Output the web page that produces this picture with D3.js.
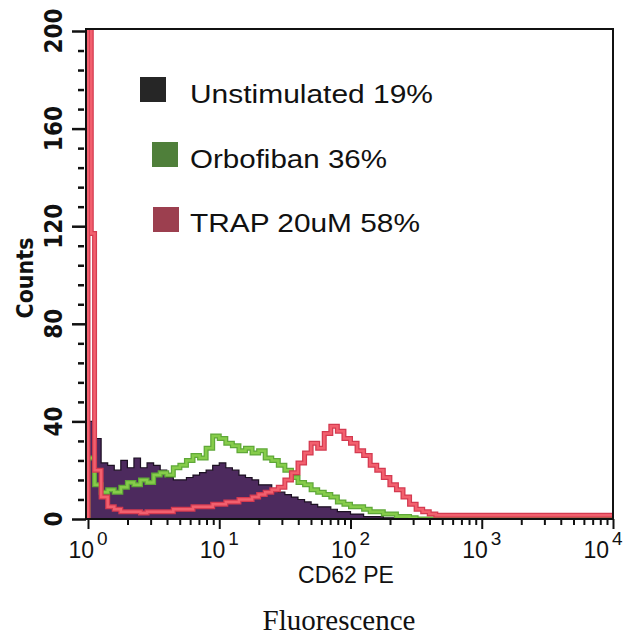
<!DOCTYPE html>
<meta charset="utf-8">
<style>
body { margin: 0; background: #fff; }
text { fill: #111; }
.tick-lab { font-family: "Liberation Sans", Arial, sans-serif; }
.narrow { font-family: "Liberation Sans Narrow", "DejaVu Sans Condensed", "Liberation Sans", sans-serif; font-weight: bold; }
</style>
<body>
<script src="https://d3js.org/d3.v7.min.js"></script>
<script>

// histogram channels: 80 bins, 0.05 decade wide, from 10^0 to 10^4
var binWidth = 0.05;

// counts per channel
var unstimulated = [40, 33, 23, 22, 20, 24, 21, 25, 21, 23,
                    22, 20, 17, 16, 16, 17, 18, 19, 20, 22,
                    23, 21, 20, 18, 17, 16, 14, 14, 12, 11,
                    10, 9, 8, 7, 6, 5, 5, 4, 3, 3,
                    2, 2, 1, 1, 1, 0.5, 0.5, 0, 0, 0,
                    0, 0, 0, 0, 0, 0, 0, 0, 0, 0,
                    0, 0, 0, 0, 0, 0, 0, 0, 0, 0,
                    0, 0, 0, 0, 0, 0, 0, 0, 0, 0];

var orbofiban = [25, 14, 11, 12, 11, 13, 15, 14, 16, 15,
                 18, 19, 18, 21, 22, 24, 26, 25, 29, 34,
                 33, 31, 30, 28, 29, 27, 28, 25, 24, 22,
                 20, 17, 15, 14, 12, 11, 10, 9, 7, 6,
                 5, 5, 4, 3, 3, 2, 2, 1, 1, 0.5,
                 0, 0, 0, 0, 0, 0, 0, 0, 0, 0,
                 0, 0, 0, 0, 0, 0, 0, 0, 0, 0,
                 0, 0, 0, 0, 0, 0, 0, 0, 0, 0];

// first TRAP channel split in two half channels (the debris spike)
var trapHead = [250, 117];
var trap = [250, 20, 9, 5, 4, 3, 3, 3, 2.5, 3,
            3, 3, 3, 4, 4, 4, 5, 5, 5, 6,
            6, 7, 7, 8, 8, 9, 10, 11, 12, 13,
            16, 19, 23, 27, 31, 29, 35, 38, 36, 33,
            31, 28, 26, 22, 20, 17, 14, 12, 9, 6,
            4, 3, 2, 1.5, 1.5, 1.5, 1.5, 1.5, 1.5, 1.5,
            1.5, 1.5, 1.5, 1.5, 1.5, 1.5, 1.5, 1.5, 1.5, 1.5,
            1.5, 1.5, 1.5, 1.5, 1.5, 1.5, 1.5, 1.5, 1.5, 1.5];

var yTicks = [0, 40, 80, 120, 160, 200];
var xDecades = [0, 1, 2, 3, 4];
var legendLabels = ["Unstimulated 19%", "Orbofiban 36%", "TRAP 20uM 58%"];
var legendColors = ["#262626", "#4f7f3a", "#9c3f4f"];

var W = 634, H = 636;
var pL = 88, pR = 613, pT = 31, pB = 519;

var x = d3.scaleLog().domain([1, 1e4]).range([pL, pR]);
var y = d3.scaleLinear().domain([0, 200]).range([pB, pT]);

var svg = d3.select("body").append("svg")
    .attr("width", W)
    .attr("height", H);

svg.append("defs").append("clipPath").attr("id", "plot")
  .append("rect")
    .attr("x", pL - 4).attr("y", pT - 3)
    .attr("width", pR - pL + 4).attr("height", pB - pT + 3);

// turn a channel array into step points (left edge of each bin + closing edge)
function steps(arr, head) {
  var pts = arr.map(function(v, i) { return {e: Math.pow(10, i * binWidth), v: v}; });
  pts.push({e: Math.pow(10, arr.length * binWidth), v: arr[arr.length - 1]});
  if (head) {
    var sub = head.map(function(v, j) { return {e: Math.pow(10, j * binWidth / head.length), v: v}; });
    pts = sub.concat(pts.slice(1));
  }
  pts.unshift({e: 1, v: 0});
  return pts;
}

var area = d3.area()
    .curve(d3.curveStepAfter)
    .x(function(d) { return x(d.e); })
    .y0(y(0))
    .y1(function(d) { return y(d.v); });

var line = d3.line()
    .curve(d3.curveStepAfter)
    .x(function(d) { return x(d.e); })
    .y(function(d) { return y(d.v); });

var g = svg.append("g").attr("clip-path", "url(#plot)");

// unstimulated: filled purple histogram
g.append("path")
    .datum(steps(unstimulated))
    .attr("d", area)
    .attr("fill", "#4d2a5e")
    .attr("stroke", "#1c1022")
    .attr("stroke-width", 1.2);

// orbofiban: green outline
g.append("path")
    .datum(steps(orbofiban))
    .attr("d", line)
    .attr("fill", "none")
    .attr("stroke", "#5fa838")
    .attr("stroke-width", 5);
g.append("path")
    .datum(steps(orbofiban))
    .attr("d", line)
    .attr("fill", "none")
    .attr("stroke", "#86cc4a")
    .attr("stroke-width", 2.5);

// TRAP: red outline
g.append("path")
    .datum(steps(trap, trapHead))
    .attr("d", line)
    .attr("fill", "none")
    .attr("stroke", "#d43a50")
    .attr("stroke-width", 5);
g.append("path")
    .datum(steps(trap, trapHead))
    .attr("d", line)
    .attr("fill", "none")
    .attr("stroke", "#f2606e")
    .attr("stroke-width", 2.5);

// frame
svg.append("path")
    .attr("d", "M" + (pL - 2) + "," + y(0) + "V" + (pT - 2) + "H" + pR + "V" + y(0) + "H" + (pL - 2))
    .attr("fill", "none")
    .attr("stroke", "#111")
    .attr("stroke-width", 2);

// x axis ticks
var minor = [];
xDecades.slice(0, -1).forEach(function(d) {
  for (var k = 2; k < 10; k++) minor.push(k * Math.pow(10, d));
});
var xMajor = d3.axisBottom(x).tickValues(xDecades.map(function(d) { return Math.pow(10, d); }))
    .tickSize(10).tickFormat("");
var xMinor = d3.axisBottom(x).tickValues(minor).tickSize(6).tickFormat("");
[xMajor, xMinor].forEach(function(ax) {
  var a = svg.append("g").attr("transform", "translate(0," + y(0) + ")").call(ax);
  a.select(".domain").remove();
  a.selectAll("line").attr("stroke", "#111").attr("stroke-width", 2);
});

// x tick labels 10^n
xDecades.forEach(function(d) {
  var cx = x(Math.pow(10, d));
  if (cx + 20 > 622) cx = 603;
  var t = svg.append("text")
      .attr("class", "tick-lab")
      .attr("x", cx)
      .attr("y", 558)
      .attr("text-anchor", "middle")
      .attr("font-size", 23);
  t.append("tspan").text("10");
  t.append("tspan").attr("dx", 3).attr("dy", -13).attr("font-size", 19).text(d);
});

// y axis ticks
var yMinor = d3.range(0, 201, 8).filter(function(v) { return v % 40 !== 0; });
var yMajorAx = svg.append("g").attr("transform", "translate(" + (pL - 2) + ",0)")
    .call(d3.axisLeft(y).tickValues(yTicks).tickSize(14).tickFormat(""));
var yMinorAx = svg.append("g").attr("transform", "translate(" + (pL - 4) + ",0)")
    .call(d3.axisLeft(y).tickValues(yMinor).tickSize(6).tickFormat(""));
[yMajorAx, yMinorAx].forEach(function(a) {
  a.select(".domain").remove();
  a.selectAll("line").attr("stroke", "#111").attr("stroke-width", 2.5);
});

// y tick labels, rotated
yTicks.forEach(function(v) {
  svg.append("text")
      .attr("class", "narrow")
      .attr("transform", "translate(62," + y(v) + ") rotate(-90)")
      .attr("text-anchor", "middle")
      .attr("font-size", 24)
      .text(v);
});

// axis titles
svg.append("text")
    .attr("class", "narrow")
    .attr("transform", "translate(33,278) rotate(-90)")
    .attr("text-anchor", "middle")
    .attr("font-size", 23)
    .text("Counts");

svg.append("text")
    .attr("class", "tick-lab")
    .attr("x", 346).attr("y", 583)
    .attr("text-anchor", "middle")
    .attr("font-size", 23)
    .text("CD62 PE");

svg.append("text")
    .attr("x", 339).attr("y", 630)
    .attr("text-anchor", "middle")
    .attr("font-family", "'Liberation Serif', 'Times New Roman', serif")
    .attr("font-size", 29)
    .text("Fluorescence");

// legend
var legendBoxes = [[140, 77], [152, 142], [153, 207]];
var legendBase = [103, 168, 232];
var legendWidths = [243, 197, 230];
legendLabels.forEach(function(lab, i) {
  svg.append("rect")
      .attr("x", legendBoxes[i][0]).attr("y", legendBoxes[i][1])
      .attr("width", 26).attr("height", 25)
      .attr("fill", legendColors[i]);
  svg.append("text")
      .attr("class", "tick-lab")
      .attr("x", 190).attr("y", legendBase[i])
      .attr("font-size", 26)
      .attr("textLength", legendWidths[i])
      .attr("lengthAdjust", "spacingAndGlyphs")
      .text(lab);
});

</script>
</body>
